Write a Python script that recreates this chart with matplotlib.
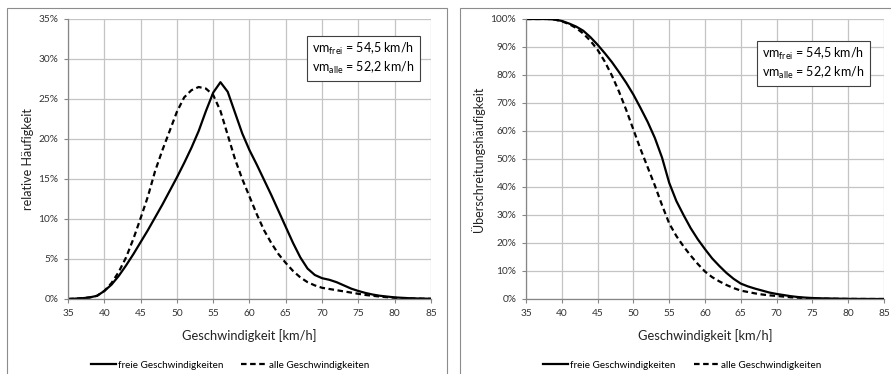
import matplotlib
matplotlib.use('Agg')
import matplotlib.pyplot as plt
from matplotlib.patches import Rectangle
from matplotlib.ticker import FuncFormatter

plt.rcParams['font.family'] = ['Lato', 'DejaVu Sans']
plt.rcParams['mathtext.fontset'] = 'custom'
plt.rcParams['mathtext.rm'] = 'Lato'

# Geschwindigkeiten (km/h)
v = list(range(35, 86))

# relative Häufigkeit in %
rel_frei = [0.0, 0.05, 0.1, 0.2, 0.4, 1.0, 1.8, 2.9, 4.2, 5.6,
            7.1, 8.6, 10.2, 11.8, 13.5, 15.2, 17.0, 18.9, 21.0, 23.5,
            25.8, 27.1, 25.9, 23.3, 20.7, 18.6, 16.8, 14.9, 13.0, 11.0,
            9.0, 7.0, 5.2, 3.8, 3.0, 2.6, 2.4, 2.1, 1.7, 1.3,
            1.0, 0.75, 0.55, 0.4, 0.3, 0.2, 0.15, 0.1, 0.07, 0.05, 0.03]
rel_alle = [0.0, 0.05, 0.1, 0.2, 0.4, 1.0, 2.0, 3.4, 5.2, 7.5,
            10.1, 12.8, 16.0, 18.6, 21.0, 23.4, 25.2, 26.1, 26.5, 26.3,
            25.5, 23.5, 20.5, 17.5, 15.0, 12.8, 10.6, 8.6, 7.0, 5.6,
            4.5, 3.5, 2.7, 2.1, 1.7, 1.4, 1.25, 1.1, 0.95, 0.8,
            0.65, 0.5, 0.4, 0.3, 0.22, 0.15, 0.1, 0.07, 0.05, 0.03, 0.02]

# Überschreitungshäufigkeit in %
ueb_frei = [100, 100, 100, 100, 99.8, 99.3, 98.4, 97.3, 95.8, 93.5,
            90.8, 87.8, 84.6, 81.0, 77.2, 73.0, 68.2, 63.2, 57.5, 50.5,
            41.5, 35.0, 30.0, 25.3, 21.3, 17.8, 14.5, 11.8, 9.3, 7.2,
            5.5, 4.5, 3.7, 3.0, 2.3, 1.8, 1.4, 1.0, 0.7, 0.5,
            0.35, 0.25, 0.2, 0.15, 0.1, 0.05, 0.03, 0.02, 0.01, 0.0, 0.0]
ueb_alle = [100, 100, 100, 100, 99.8, 99.2, 98.2, 96.8, 94.8, 92.2,
            89.0, 84.8, 79.8, 74.0, 67.5, 60.5, 53.5, 47.0, 40.5, 33.5,
            27.0, 22.5, 18.8, 15.5, 12.5, 9.8, 7.8, 6.3, 5.0, 3.9,
            3.0, 2.5, 2.0, 1.6, 1.3, 1.1, 0.85, 0.6, 0.45, 0.3,
            0.2, 0.15, 0.1, 0.07, 0.05, 0.03, 0.02, 0.01, 0.0, 0.0, 0.0]

box_text = 'vm$_{\\mathrm{frei}}$ = 54,5 km/h\nvm$_{\\mathrm{alle}}$ = 52,2 km/h'

W, H = 891, 374
fig = plt.figure(figsize=(W / 100, H / 100), dpi=100)

# Rahmen der beiden Diagramme (Excel-Stil)
for x0, x1 in [(7, 447), (460, 900)]:
    fig.patches.append(Rectangle((x0 / W, -0.1), (x1 - x0) / W, 1.1 - 8 / H,
                                 transform=fig.transFigure, fill=False,
                                 edgecolor='#8c8c8c', linewidth=0.8))


def style_axes(ax, ymax, ystep, ylabel, ylab_x, leg_x):
    ax.set_xlim(35, 85)
    ax.set_ylim(0, ymax)
    ax.set_xticks(range(35, 86, 5))
    ax.set_yticks([i * ystep for i in range(int(round(ymax / ystep)) + 1)])
    ax.yaxis.set_major_formatter(FuncFormatter(lambda y, p: '%d%%' % round(y)))
    ax.grid(True, color='#c4c4c4', linewidth=0.9)
    ax.set_axisbelow(True)
    for s in ['top', 'right']:
        ax.spines[s].set_visible(False)
    for s in ['left', 'bottom']:
        ax.spines[s].set_color('#868686')
        ax.spines[s].set_linewidth(0.9)
    ax.tick_params(labelsize=7.3, colors='#868686', labelcolor='#333333',
                   length=3, width=0.8, pad=4)
    ax.set_xlabel('Geschwindigkeit [km/h]', fontsize=9.3, color='#222222')
    ax.xaxis.set_label_coords(0.5, -0.107)
    ax.set_ylabel(ylabel, fontsize=9, color='#222222', va='center')
    ax.yaxis.set_label_coords(ylab_x, 0.5)
    ax.legend(loc='center', bbox_to_anchor=(leg_x, -0.236), ncol=2, frameon=False,
              fontsize=7.1, handlelength=2.6, columnspacing=1.8, handletextpad=0.2)


ax1 = fig.add_axes([68 / W, 1 - 299 / H, (431 - 68) / W, 280 / H])
ax1.plot(v, rel_frei, color='black', linewidth=1.6, label='freie Geschwindigkeiten')
ax1.plot(v, rel_alle, color='black', linewidth=1.6, linestyle=(0, (2.5, 1.6)),
         label='alle Geschwindigkeiten')
style_axes(ax1, 35, 5, 'relative Häufigkeit', -0.11, 0.446)
ax1.text(0.814, 0.86, box_text, transform=ax1.transAxes, ha='center', va='center',
         fontsize=9, linespacing=1.25,
         bbox=dict(boxstyle='square,pad=0.4', facecolor='white', edgecolor='#404040',
                   linewidth=0.8))

ax2 = fig.add_axes([526 / W, 1 - 299 / H, (884 - 526) / W, 280 / H])
ax2.plot(v, ueb_frei, color='black', linewidth=1.6, label='freie Geschwindigkeiten')
ax2.plot(v, ueb_alle, color='black', linewidth=1.6, linestyle=(0, (2.5, 1.6)),
         label='alle Geschwindigkeiten')
style_axes(ax2, 100, 10, 'Überschreitungshäufigkeit', -0.134, 0.436)
ax2.text(0.803, 0.84, box_text, transform=ax2.transAxes, ha='center', va='center',
         fontsize=9, linespacing=1.25,
         bbox=dict(boxstyle='square,pad=0.4', facecolor='white', edgecolor='#404040',
                   linewidth=0.8))

fig.savefig('out.png', dpi=100)
